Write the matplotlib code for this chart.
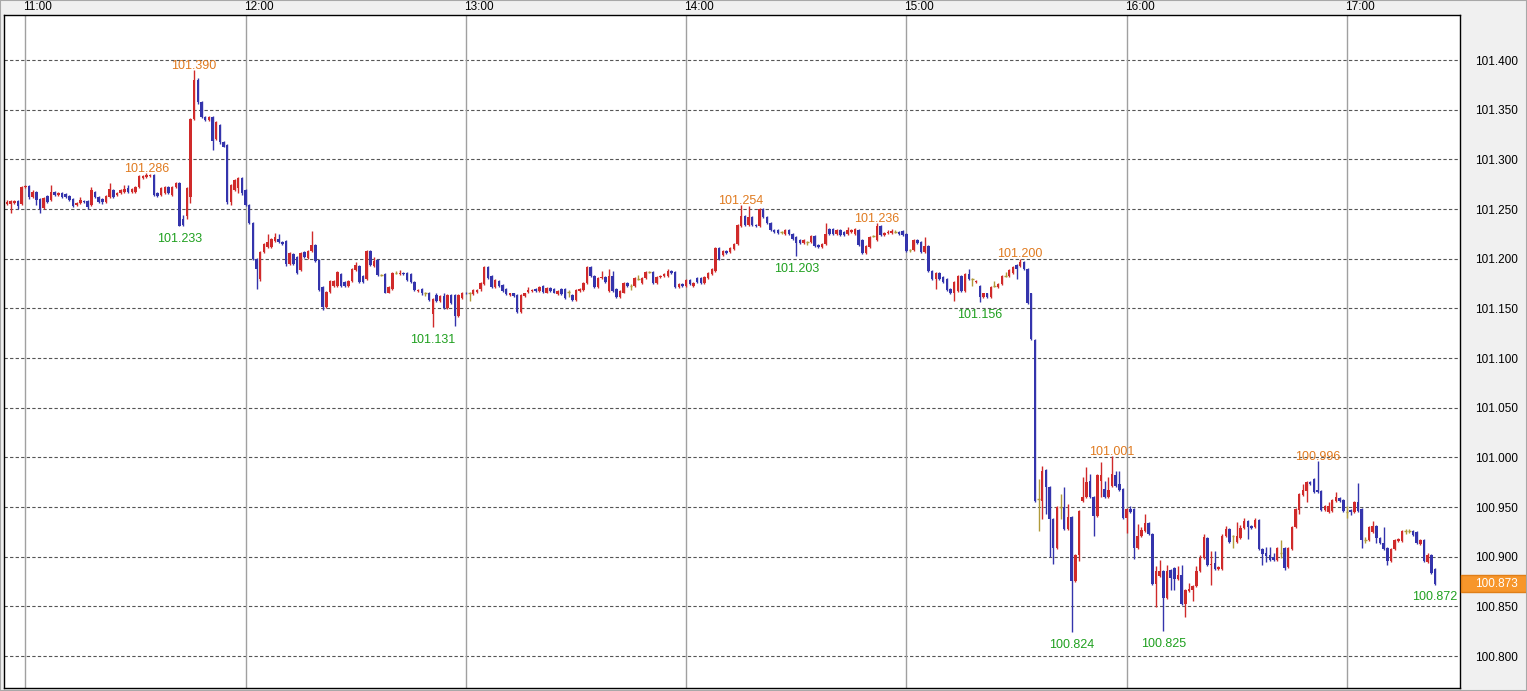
import numpy as np
import pandas as pd
import matplotlib
matplotlib.use("Agg")
import matplotlib.pyplot as plt
import matplotlib.dates as mdates
import matplotlib.transforms as mtransforms
from matplotlib.patches import Rectangle
from matplotlib import font_manager

# ---------------- data (prices in thousandths above 100.000, i.e. 1254 -> 101.254) ----------------
start_time = "2024-05-10 10:55"   # first 1-minute candle

opens = [
    1255,1255,1256,1258,1255,1272,1273,1262,1267,1260,
    1251,1263,1259,1267,1264,1266,1265,1263,1260,1254,
    1256,1258,1258,1254,1267,1262,1260,1257,1262,1269,
    1264,1266,1267,1271,1267,1267,1272,1281,1282,1283,
    1284,1266,1264,1266,1272,1264,1272,1276,1240,1243,
    1262,1341,1380,1358,1343,1340,1343,1321,1335,1318,
    1315,1257,1269,1271,1281,1269,1254,1236,1200,1180,
    1207,1212,1212,1218,1220,1217,1218,1195,1205,1202,
    1189,1207,1201,1208,1214,1199,1172,1151,1167,1173,
    1173,1185,1177,1173,1178,1189,1193,1183,1180,1208,
    1193,1199,1184,1185,1166,1170,1186,1185,1186,1186,
    1185,1177,1168,1170,1166,1166,1144,1163,1157,1162,
    1150,1163,1163,1142,1160,1166,1166,1164,1167,1170,
    1175,1192,1183,1172,1178,1174,1170,1163,1165,1163,
    1146,1162,1167,1168,1170,1168,1173,1166,1171,1170,
    1164,1170,1170,1167,1163,1158,1168,1169,1176,1192,
    1183,1172,1181,1182,1168,1183,1170,1161,1166,1176,
    1173,1173,1180,1176,1181,1187,1187,1176,1182,1183,
    1183,1188,1187,1172,1175,1173,1179,1173,1181,1181,
    1176,1181,1185,1188,1211,1204,1208,1207,1210,1215,
    1233,1243,1234,1242,1234,1233,1250,1242,1236,1229,
    1229,1227,1225,1229,1225,1222,1219,1216,1217,1217,
    1223,1214,1212,1215,1230,1230,1225,1229,1227,1225,
    1227,1225,1229,1219,1206,1212,1223,1219,1233,1224,
    1226,1226,1227,1227,1228,1225,1209,1209,1219,1217,
    1207,1213,1188,1180,1186,1182,1180,1170,1166,1168,
    1183,1168,1185,1180,1177,1173,1161,1165,1161,1173,
    1172,1175,1183,1183,1186,1194,1193,1197,1190,1165,
    1118,958,956,987,970,938,909,950,950,928,
    940,876,902,956,960,976,960,941,976,968,
    960,971,982,973,968,939,948,948,909,921,
    926,934,923,873,881,886,858,887,889,878,
    882,852,865,866,870,886,899,919,892,894,
    888,888,921,928,921,915,919,929,936,931,
    930,937,908,904,902,900,897,904,909,890,
    908,930,947,962,966,975,978,967,966,947,
    945,946,956,959,957,945,947,945,955,948,
    917,917,925,931,919,914,909,896,908,916,
    916,926,926,926,925,913,917,895,902,888,
]
highs = [
    1259,1259,1259,1259,1273,1274,1274,1269,1268,1261,
    1262,1264,1274,1268,1267,1267,1266,1264,1261,1257,
    1262,1259,1259,1272,1268,1263,1261,1264,1276,1270,
    1267,1270,1274,1274,1271,1273,1284,1284,1286,1285,
    1285,1267,1272,1273,1273,1273,1277,1277,1244,1272,
    1342,1390,1382,1359,1344,1344,1344,1339,1336,1319,
    1316,1275,1280,1282,1282,1270,1255,1237,1201,1208,
    1216,1225,1221,1226,1225,1218,1219,1207,1206,1203,
    1207,1208,1209,1228,1215,1200,1173,1168,1179,1179,
    1188,1186,1178,1179,1191,1197,1194,1184,1209,1209,
    1202,1200,1185,1186,1173,1187,1188,1189,1187,1187,
    1186,1178,1170,1171,1167,1167,1160,1166,1163,1166,
    1164,1164,1164,1164,1167,1167,1167,1170,1170,1177,
    1193,1193,1184,1180,1179,1175,1171,1166,1166,1164,
    1164,1166,1172,1170,1171,1173,1174,1172,1172,1171,
    1169,1171,1171,1169,1164,1170,1171,1177,1193,1193,
    1184,1182,1188,1183,1190,1188,1171,1169,1177,1177,
    1175,1182,1184,1182,1188,1188,1188,1183,1184,1186,
    1190,1189,1188,1176,1176,1180,1180,1177,1182,1182,
    1183,1187,1191,1212,1212,1209,1209,1212,1216,1235,
    1254,1244,1253,1243,1235,1251,1251,1243,1237,1230,
    1230,1228,1230,1230,1226,1223,1220,1220,1218,1224,
    1224,1215,1216,1236,1231,1231,1230,1230,1228,1232,
    1230,1231,1230,1220,1214,1223,1224,1236,1234,1227,
    1229,1230,1229,1228,1229,1226,1210,1220,1220,1218,
    1222,1214,1189,1187,1187,1183,1181,1171,1178,1184,
    1184,1186,1190,1181,1179,1174,1166,1166,1173,1178,
    1176,1184,1187,1190,1193,1195,1200,1198,1191,1166,
    1119,978,991,988,971,939,951,963,970,953,
    941,903,947,980,990,983,961,983,995,976,
    980,1001,986,986,969,949,951,949,933,930,
    943,935,924,891,897,887,892,888,890,891,
    892,867,874,872,891,902,923,920,906,906,
    891,923,931,929,922,935,932,939,937,932,
    939,938,909,910,910,904,910,917,910,910,
    931,949,964,973,976,976,979,996,967,952,
    955,958,965,960,958,951,948,956,974,949,
    920,931,936,932,920,930,910,909,918,919,
    927,928,928,927,926,918,918,904,903,889,
]
lows = [
    1254,1246,1255,1250,1254,1271,1260,1261,1254,1246,
    1250,1256,1258,1263,1263,1261,1261,1258,1252,1253,
    1255,1256,1250,1253,1261,1256,1255,1256,1261,1261,
    1263,1265,1266,1266,1266,1266,1271,1280,1281,1282,
    1263,1262,1263,1265,1265,1263,1271,1233,1233,1240,
    1256,1340,1356,1342,1339,1339,1309,1320,1316,1312,
    1255,1254,1268,1266,1264,1253,1235,1199,1170,1178,
    1206,1211,1211,1217,1216,1214,1193,1194,1194,1185,
    1188,1201,1200,1207,1197,1168,1148,1150,1166,1172,
    1172,1172,1172,1172,1177,1188,1176,1176,1179,1193,
    1192,1183,1183,1165,1165,1169,1185,1184,1184,1178,
    1176,1168,1167,1163,1162,1157,1131,1156,1156,1149,
    1149,1154,1132,1141,1159,1164,1157,1163,1166,1168,
    1174,1180,1171,1171,1172,1167,1163,1162,1161,1145,
    1145,1161,1166,1167,1167,1167,1166,1165,1167,1165,
    1163,1163,1159,1161,1157,1157,1167,1168,1175,1182,
    1171,1171,1180,1176,1167,1167,1160,1160,1165,1172,
    1169,1172,1179,1175,1180,1186,1175,1175,1181,1182,
    1182,1185,1171,1171,1172,1172,1174,1172,1176,1175,
    1175,1180,1184,1187,1199,1203,1205,1206,1209,1214,
    1232,1233,1233,1233,1232,1232,1241,1235,1228,1226,
    1225,1225,1224,1224,1219,1203,1215,1215,1214,1216,
    1212,1211,1211,1214,1224,1224,1224,1223,1223,1224,
    1226,1224,1213,1205,1205,1211,1222,1218,1223,1223,
    1225,1225,1226,1224,1223,1207,1207,1208,1215,1206,
    1206,1187,1179,1170,1179,1176,1168,1164,1157,1167,
    1167,1167,1179,1173,1176,1156,1160,1160,1160,1172,
    1171,1174,1182,1182,1185,1180,1192,1189,1154,1118,
    955,926,938,943,900,893,908,938,927,927,
    824,875,896,955,959,959,921,940,960,959,
    959,970,970,966,938,924,944,898,908,920,
    925,922,872,849,880,825,857,866,866,877,
    851,839,864,855,869,885,898,891,872,887,
    887,887,920,914,909,914,918,928,918,928,
    929,907,892,895,896,896,896,899,887,889,
    907,929,943,961,955,972,964,964,946,946,
    944,945,955,955,945,939,942,944,945,909,
    914,916,924,914,913,907,892,895,907,915,
    915,923,924,921,913,912,895,894,883,872,
]
closes = [
    1257,1258,1258,1253,1272,1273,1262,1267,1259,1250,
    1261,1257,1267,1264,1266,1262,1262,1259,1253,1256,
    1259,1257,1252,1269,1262,1257,1257,1263,1270,1262,
    1266,1269,1270,1267,1270,1272,1283,1283,1284,1284,
    1264,1263,1271,1272,1266,1272,1276,1233,1234,1271,
    1341,1380,1358,1343,1340,1343,1319,1338,1318,1313,
    1257,1274,1279,1281,1266,1254,1236,1200,1190,1207,
    1215,1217,1220,1222,1217,1215,1195,1206,1195,1186,
    1206,1202,1208,1214,1198,1169,1151,1167,1178,1178,
    1187,1173,1173,1178,1190,1194,1177,1177,1208,1194,
    1198,1184,1184,1166,1172,1186,1186,1186,1185,1179,
    1177,1169,1169,1165,1166,1158,1159,1157,1162,1150,
    1163,1155,1142,1163,1166,1165,1166,1169,1169,1176,
    1192,1181,1172,1179,1173,1168,1164,1165,1162,1146,
    1163,1165,1169,1169,1168,1172,1167,1171,1168,1166,
    1168,1164,1160,1167,1158,1169,1170,1176,1192,1183,
    1172,1181,1182,1177,1183,1168,1161,1168,1176,1173,
    1173,1181,1180,1181,1187,1187,1176,1182,1183,1185,
    1188,1186,1172,1175,1173,1179,1175,1176,1177,1176,
    1182,1186,1190,1211,1200,1208,1206,1211,1215,1234,
    1243,1234,1242,1234,1233,1250,1242,1236,1229,1227,
    1226,1227,1229,1225,1220,1216,1216,1219,1217,1223,
    1213,1212,1215,1225,1225,1225,1229,1224,1224,1229,
    1229,1230,1214,1206,1213,1222,1223,1233,1224,1226,
    1227,1228,1227,1225,1224,1208,1209,1219,1216,1207,
    1213,1188,1180,1186,1180,1177,1169,1165,1177,1183,
    1168,1185,1180,1180,1178,1161,1165,1161,1172,1173,
    1175,1183,1183,1189,1192,1190,1197,1190,1155,1119,
    956,958,986,970,938,909,950,950,928,940,
    876,902,946,960,975,960,941,982,982,960,
    967,983,971,967,939,948,945,909,921,927,
    934,923,873,886,886,858,886,879,878,882,
    852,866,867,871,886,899,920,892,893,888,
    890,921,928,915,921,921,929,936,930,929,
    937,908,903,901,897,897,909,904,889,909,
    930,948,963,967,975,973,965,965,947,951,
    951,957,960,956,946,945,945,955,946,917,
    917,930,931,919,914,908,896,908,917,918,
    926,926,926,922,914,917,896,902,884,873,
]

# highlighted highs / lows shown on the chart
mark_times  = ["11:33", "11:42", "11:46", "12:51", "14:15", "14:30", "14:52",
               "15:20", "15:31", "15:45", "15:56", "16:10", "16:52", "17:24"]
mark_values = [101.286, 101.233, 101.390, 101.131, 101.254, 101.203, 101.236,
               101.156, 101.200, 100.824, 101.001, 100.825, 100.996, 100.872]
mark_kinds  = ["high", "low", "high", "low", "high", "low", "high",
               "low", "high", "low", "high", "low", "high", "low"]

hour_ticks = ["11:00", "12:00", "13:00", "14:00", "15:00", "16:00", "17:00"]
price_ticks = [100.80, 100.85, 100.90, 100.95, 101.00, 101.05, 101.10,
               101.15, 101.20, 101.25, 101.30, 101.35, 101.40]
last_price = 100.873

# ---------------- styling ----------------
names = {f.name for f in font_manager.fontManager.ttflist}
AXFONT = "Liberation Sans Narrow" if "Liberation Sans Narrow" in names else "Liberation Sans"
plt.rcParams["font.family"] = ["Liberation Sans", "DejaVu Sans"]

UP = "#d02a2a"
DOWN = "#3434ac"
DOJI = "#b09a3a"
HI_COL = "#e07a1f"
LO_COL = "#1fa01f"

W, H = 1527, 691
fig = plt.figure(figsize=(W / 100, H / 100), dpi=100, facecolor="#f0f0f0")
L_, R_, T_, B_ = 4, 1460, 15, 688
ax = fig.add_axes([L_ / W, 1 - B_ / H, (R_ - L_) / W, (B_ - T_) / H])
ax.set_facecolor("white")

day = pd.Timestamp(start_time).strftime("%Y-%m-%d")
times = pd.date_range(start_time, periods=len(opens), freq="min")
x = mdates.date2num(times)
o = 100 + np.array(opens) / 1000.0
h = 100 + np.array(highs) / 1000.0
l = 100 + np.array(lows) / 1000.0
c = 100 + np.array(closes) / 1000.0

one_min = 1.0 / 1440.0
ax.set_xlim(x[0] - 0.8 * one_min, x[0] + 395.8 * one_min)
ax.set_ylim(100.7678, 101.4454)

# grid
for p in price_ticks:
    ax.axhline(p, color="#555555", lw=0.8, ls=(0, (3, 2)), zorder=1)
hour_x = mdates.date2num(pd.to_datetime([f"{day} {t}" for t in hour_ticks]))
for hx in hour_x:
    ax.axvline(hx, color="#a0a0a0", lw=1.0, zorder=1)

# candles
up = c > o
dn = c < o
fl = c == o
col = np.where(up, UP, np.where(dn, DOWN, DOJI))
ax.vlines(x, l, h, colors=col, lw=1.0, zorder=3)
bw = 0.68 * one_min
nf = ~fl
ax.bar(x[nf], np.abs(c - o)[nf], bottom=np.minimum(o, c)[nf], width=bw,
       color=col[nf], linewidth=0, zorder=4)
ax.hlines(o[fl], x[fl] - bw / 2, x[fl] + bw / 2, colors=DOJI, lw=1.0, zorder=4)

# high / low labels
mx = mdates.date2num(pd.to_datetime([f"{day} {t}" for t in mark_times]))
for xx, v, k in zip(mx, mark_values, mark_kinds):
    if k == "high":
        ax.annotate(f"{v:.3f}", (xx, v), xytext=(0, 1), textcoords="offset points",
                    ha="center", va="baseline", color=HI_COL, fontsize=9, zorder=6)
    else:
        ax.annotate(f"{v:.3f}", (xx, v), xytext=(0, -5), textcoords="offset points",
                    ha="center", va="top", color=LO_COL, fontsize=9, zorder=6)

# axes: right price scale, top time scale
ax.yaxis.tick_right()
ax.set_yticks(price_ticks)
ax.set_yticklabels([f"{p:.3f}" for p in price_ticks], fontsize=8.5, family=AXFONT)
ax.tick_params(axis="y", length=0, pad=11)
ax.xaxis.tick_top()
ax.set_xticks(hour_x)
ax.set_xticklabels(hour_ticks, fontsize=8.5, family=AXFONT)
ax.tick_params(axis="x", length=0, pad=1.5)
shift = mtransforms.ScaledTranslation(-2 / 100, 0, fig.dpi_scale_trans)
for lbl in ax.get_xticklabels():
    lbl.set_horizontalalignment("left")
    lbl.set_transform(lbl.get_transform() + shift)

for s in ax.spines.values():
    s.set_color("black")
    s.set_linewidth(1.0)

# current price box
tr = mtransforms.blended_transform_factory(fig.transFigure, ax.transData)
box_h = 17 / 991.7
ax.add_patch(Rectangle(((R_ + 1) / W, last_price - box_h / 2), (W - R_ - 1) / W, box_h,
                       transform=tr, facecolor="#f7962b", edgecolor="#e07f18", lw=1,
                       clip_on=False, zorder=5))
ax.text((R_ + 15) / W, last_price, f"{last_price:.3f}", transform=tr, ha="left",
        va="center", fontsize=8.5, family=AXFONT, color="white", zorder=6, clip_on=False)

# outer frame
fig.patches.append(Rectangle((0, 0), 1, 1, transform=fig.transFigure, fill=False,
                             edgecolor="#a8a8a8", lw=1.5))

fig.savefig("out.png", dpi=100, facecolor=fig.get_facecolor())
